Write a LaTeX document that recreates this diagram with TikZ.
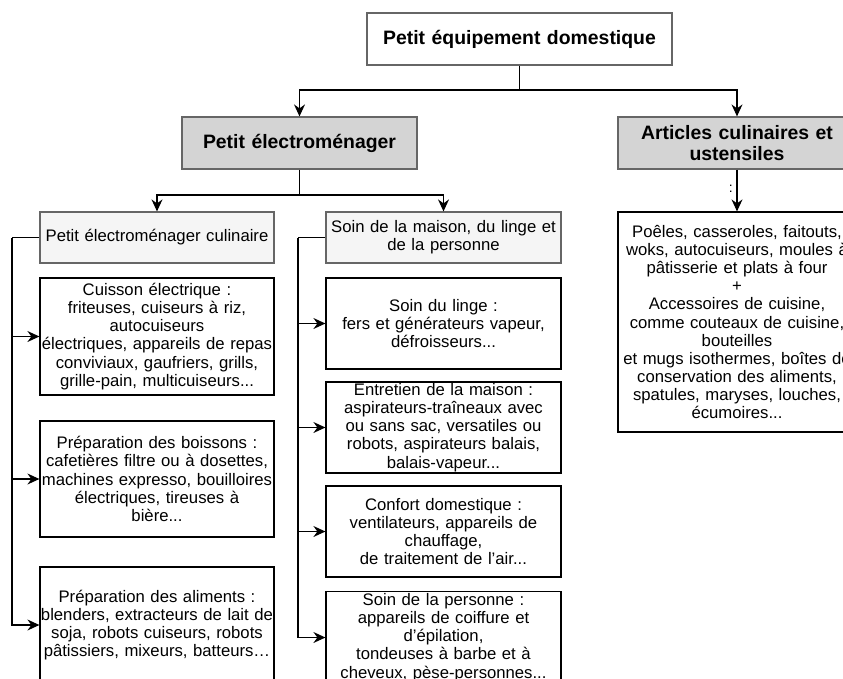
\documentclass[tikz,border=0pt]{standalone}
\usepackage{fontspec}
\setmainfont{Liberation Sans}
\usetikzlibrary{arrows.meta}
\definecolor{hdrgrey}{HTML}{D4D4D4}
\definecolor{lightgrey}{HTML}{F5F5F5}
\definecolor{edgegrey}{HTML}{666666}
\tikzset{
  base/.style={draw, line width=1.2pt, inner sep=0pt, align=center, text width=#1, minimum width=#1},
  base/.default=234pt,
  topbox/.style={base=305pt, draw=edgegrey, fill=white, minimum height=52pt, font=\fontsize{19.4}{21}\selectfont\bfseries},
  hdrbox/.style={base=#1, draw=edgegrey, fill=hdrgrey, minimum height=52pt, font=\fontsize{19.4}{21}\selectfont\bfseries},
  subbox/.style={base=#1, draw=edgegrey, fill=lightgrey, minimum height=51pt, font=\fontsize{16.7}{18.3}\selectfont},
  itembox/.style={base=#1, draw=black, fill=white, font=\fontsize{16.7}{18.1}\selectfont},
  conn/.style={line width=1.2pt, draw=black},
  arr/.style={conn, -{Stealth[length=12pt,width=11pt,inset=4pt]}},
}
\begin{document}
\begin{tikzpicture}[x=1pt,y=-1pt]
\useasboundingbox (0,0) rectangle (843,678);
\clip (0,0) rectangle (843,678);
\fill[white] (0,0) rectangle (843,678);

% top
\node[topbox] (top) at (519.5,39) {Petit équipement domestique};
\node[hdrbox=235pt] (pe) at (299.5,143) {Petit électroménager};
\node[hdrbox=238pt] (art) at (737,143) {Articles culinaires et\\ustensiles};

% second level
\node[subbox=234pt] (culin) at (157,237.5) {Petit électroménager culinaire};
\node[subbox=235pt] (soin) at (443.5,237.5) {Soin de la maison, du linge et\\de la personne};

% left column
\node[itembox=234pt, minimum height=117pt] (cuisson) at (157,336.5) {Cuisson électrique :\\friteuses, cuiseurs à riz,\\autocuiseurs\\électriques, appareils de repas\\conviviaux, gaufriers, grills,\\grille-pain, multicuiseurs...};
\node[itembox=234pt, minimum height=116pt] (boissons) at (157,479) {Préparation des boissons :\\cafetières filtre ou à dosettes,\\machines expresso, bouilloires\\électriques, tireuses à\\bière...};
\node[itembox=234pt, minimum height=116pt] (aliments) at (157,625) {Préparation des aliments :\\blenders, extracteurs de lait de\\soja, robots cuiseurs, robots\\pâtissiers, mixeurs, batteurs…};

% middle column
\node[itembox=235pt, minimum height=91pt] (linge) at (443.5,323.5) {Soin du linge :\\fers et générateurs vapeur,\\défroisseurs...};
\node[itembox=235pt, minimum height=91pt] (entretien) at (443.5,427.5) {Entretien de la maison :\\aspirateurs-traîneaux avec\\ou sans sac, versatiles ou\\robots, aspirateurs balais,\\balais-vapeur...};
\node[itembox=235pt, minimum height=91pt] (confort) at (443.5,531.5) {Confort domestique :\\ventilateurs, appareils de\\chauffage,\\de traitement de l’air...};
\node[itembox=235pt, minimum height=92pt] (personne) at (443.5,637.5) {Soin de la personne :\\appareils de coiffure et\\d’épilation,\\tondeuses à barbe et à\\cheveux, pèse-personnes...};

% right column
\node[itembox=238pt, minimum height=220pt] (artc) at (737,322) {Poêles, casseroles, faitouts,\\woks, autocuiseurs, moules à\\pâtisserie et plats à four\\+\\Accessoires de cuisine,\\comme couteaux de cuisine,\\bouteilles\\et mugs isothermes, boîtes de\\conservation des aliments,\\spatules, maryses, louches,\\écumoires...};

% connectors
\coordinate (j1) at (519.5,90);
\coordinate (j2) at (299.5,195);
\coordinate (cl) at (12,237.5);
\coordinate (ml) at (298,237.5);

\draw[conn] (top.south) -- (j1);
\draw[arr] (j1) -| (pe.north);
\draw[arr] (j1) -| (art.north);

\draw[conn] (pe.south) -- (j2);
\draw[arr] (j2) -| (culin.north);
\draw[arr] (j2) -| (soin.north);

\draw[arr] (art) -- (artc);

\draw[conn] (culin.west) -- (cl);
\draw[arr] (cl) |- (cuisson.west);
\draw[arr] (cl) |- (boissons.west);
\draw[arr] (cl) |- (aliments.west);

\draw[conn] (soin.west) -- (ml);
\draw[arr] (ml) |- (linge.west);
\draw[arr] (ml) |- (entretien.west);
\draw[arr] (ml) |- (confort.west);
\draw[arr] (ml) |- (personne.west);

\node[anchor=east, inner sep=0pt, font=\fontsize{14}{14}\selectfont] (lbl) at (733,189) {:};
\end{tikzpicture}
\end{document}
